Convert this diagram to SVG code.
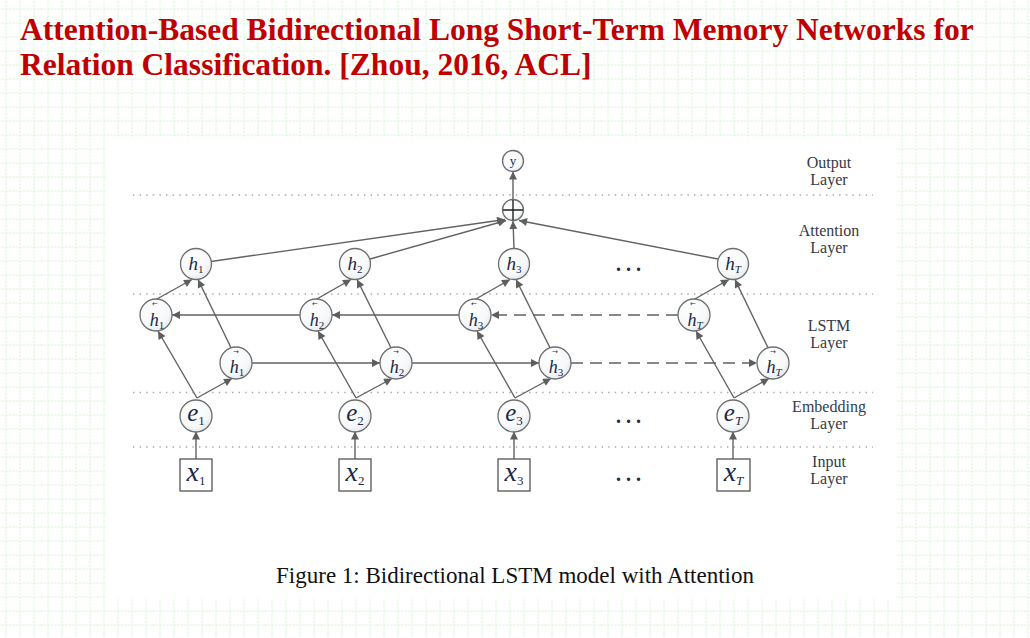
<svg xmlns="http://www.w3.org/2000/svg" width="1030" height="638" viewBox="0 0 1030 638">
<defs>
<pattern id="grid" x="5.5" y="8.5" width="14" height="14" patternUnits="userSpaceOnUse">
<line x1="0.5" y1="0" x2="0.5" y2="14" stroke="#cff3cf" stroke-width="1" stroke-dasharray="2 1.5"/>
<line x1="0" y1="0.5" x2="14" y2="0.5" stroke="#cff3cf" stroke-width="1" stroke-dasharray="2 1.5"/>
</pattern>
<radialGradient id="g" cx="0.4" cy="0.35" r="0.7">
<stop offset="0" stop-color="#ffffff"/>
<stop offset="0.7" stop-color="#f6f8f9"/>
<stop offset="1" stop-color="#e3e8ec"/>
</radialGradient>
<marker id="ar" viewBox="0 0 10 10" refX="10" refY="5" markerWidth="10" markerHeight="8" markerUnits="userSpaceOnUse" orient="auto">
<path d="M0,0 L10,5 L0,10 z" fill="#5e5e5e"/>
</marker>
<style>
.title{font-family:"Liberation Serif","Times New Roman",serif;font-weight:bold;font-size:31.5px;fill:#c00000}
.cap{font-family:"Liberation Serif","Times New Roman",serif;font-size:23px;fill:#111}
.layer{font-family:"Liberation Serif","Times New Roman",serif;font-size:16px;fill:#353a48;text-anchor:middle}
.sep{stroke:#a8a8a8;stroke-width:1.3;stroke-dasharray:1.4 5.2}
.node circle{fill:url(#g);stroke:#6e6e6e;stroke-width:1.3}
.node rect{fill:#fff;stroke:#555;stroke-width:1.3}
.lab{font-family:"Liberation Serif","Times New Roman",serif;font-style:italic;fill:#1e2846;text-anchor:middle}
.sub{font-style:normal}
.arr{font-family:"DejaVu Sans","Liberation Serif",sans-serif;font-size:7px;fill:#1e2846;text-anchor:middle}
.dots{font-family:"Liberation Serif",serif;font-weight:bold;font-size:20px;fill:#1e2846;letter-spacing:5px}
.edge line{stroke:#626262;stroke-width:1.4;fill:none;marker-end:url(#ar)}
.edge line.d{stroke-dasharray:12 7}
</style>
</defs>
<rect x="0" y="0" width="1030" height="638" fill="#fff"/>
<rect x="0" y="0" width="1030" height="638" fill="url(#grid)"/>
<rect x="105" y="138" width="791" height="460" fill="#fff"/>

<text class="title" x="20" y="40">Attention-Based Bidirectional Long Short-Term Memory Networks for</text>
<text class="title" x="20" y="75">Relation Classification. [Zhou, 2016, ACL]</text>

<g id="separators">
<line class="sep" x1="133" y1="195" x2="873" y2="195"/>
<line class="sep" x1="133" y1="294" x2="873" y2="294"/>
<line class="sep" x1="133" y1="392.5" x2="873" y2="392.5"/>
<line class="sep" x1="133" y1="447" x2="873" y2="447"/>
</g>

<g id="layer-labels">
<text class="layer" x="829" y="168">Output</text><text class="layer" x="829" y="185">Layer</text>
<text class="layer" x="829" y="235.5">Attention</text><text class="layer" x="829" y="252.5">Layer</text>
<text class="layer" x="829" y="331">LSTM</text><text class="layer" x="829" y="348">Layer</text>
<text class="layer" x="829" y="412">Embedding</text><text class="layer" x="829" y="429">Layer</text>
<text class="layer" x="829" y="466.5">Input</text><text class="layer" x="829" y="483.5">Layer</text>
</g>

<g id="connectors" class="edge">
<line x1="513" y1="199.5" x2="513" y2="171.5"/>
<line x1="211" y1="261.5" x2="505" y2="219.5"/>
<line x1="370" y1="259" x2="506" y2="220.5"/>
<line x1="514" y1="248.5" x2="513" y2="221"/>
<line x1="718" y1="259" x2="519" y2="220.5"/>

<line x1="156" y1="299.5" x2="192" y2="279.5"/>
<line x1="231" y1="347.8" x2="198" y2="279.5"/>
<line x1="316" y1="299.5" x2="351" y2="279.5"/>
<line x1="391" y1="347.8" x2="357" y2="279.5"/>
<line x1="475" y1="299.5" x2="510" y2="279.5"/>
<line x1="550" y1="347.8" x2="516" y2="279.5"/>
<line x1="694" y1="299.5" x2="729" y2="279.5"/>
<line x1="768" y1="347.8" x2="735" y2="279.5"/>

<line x1="197" y1="398" x2="158" y2="331"/>
<line x1="197" y1="398" x2="232" y2="378.5"/>
<line x1="356" y1="398" x2="318" y2="331"/>
<line x1="356" y1="398" x2="392" y2="378.5"/>
<line x1="515" y1="398" x2="477" y2="331"/>
<line x1="515" y1="398" x2="551" y2="378.5"/>
<line x1="734" y1="398" x2="696" y2="331"/>
<line x1="734" y1="398" x2="769" y2="378.5"/>

<line x1="252" y1="363" x2="380" y2="363"/>
<line x1="412" y1="363" x2="539" y2="363"/>
<line class="d" x1="571" y1="363" x2="757" y2="363"/>
<line x1="300" y1="315" x2="172" y2="315"/>
<line x1="459" y1="315" x2="332" y2="315"/>
<line class="d" x1="678" y1="315" x2="491" y2="315"/>

<line x1="196" y1="459" x2="196" y2="431.5"/>
<line x1="355" y1="459" x2="355" y2="431.5"/>
<line x1="514" y1="459" x2="514" y2="431.5"/>
<line x1="733" y1="459" x2="733" y2="431.5"/>
</g>

<g id="node-y" class="node"><circle cx="513" cy="161" r="10.5"/><text class="lab sub" x="513" y="165" font-size="13" fill="#2e3e70">y</text></g>
<g id="node-sum" class="node"><circle cx="513" cy="210" r="10.5"/><path d="M503,210 H523 M513,200 V220" stroke="#222" stroke-width="1.4" fill="none"/></g>

<g id="node-h1" class="node"><circle cx="196" cy="264" r="15.5"/><text class="lab" x="196" y="270" font-size="19">h<tspan class="sub" font-size="11" dy="3">1</tspan></text></g>
<g id="node-h2" class="node"><circle cx="355" cy="264" r="15.5"/><text class="lab" x="355" y="270" font-size="19">h<tspan class="sub" font-size="11" dy="3">2</tspan></text></g>
<g id="node-h3" class="node"><circle cx="514" cy="264" r="15.5"/><text class="lab" x="514" y="270" font-size="19">h<tspan class="sub" font-size="11" dy="3">3</tspan></text></g>
<g id="node-hT" class="node"><circle cx="733" cy="264" r="15.5"/><text class="lab" x="733" y="270" font-size="19">h<tspan font-size="11" dy="3">T</tspan></text></g>

<g id="node-bh1" class="node"><circle cx="156" cy="315" r="16"/><text class="arr" x="155" y="306">←</text><text class="lab" x="157" y="326" font-size="18">h<tspan class="sub" font-size="11" dy="3">1</tspan></text></g>
<g id="node-bh2" class="node"><circle cx="316" cy="315" r="16"/><text class="arr" x="315" y="306">←</text><text class="lab" x="317" y="326" font-size="18">h<tspan class="sub" font-size="11" dy="3">2</tspan></text></g>
<g id="node-bh3" class="node"><circle cx="475" cy="315" r="16"/><text class="arr" x="474" y="306">←</text><text class="lab" x="476" y="326" font-size="18">h<tspan class="sub" font-size="11" dy="3">3</tspan></text></g>
<g id="node-bhT" class="node"><circle cx="694" cy="315" r="16"/><text class="arr" x="693" y="306">←</text><text class="lab" x="695" y="326" font-size="18">h<tspan font-size="11" dy="3">T</tspan></text></g>

<g id="node-fh1" class="node"><circle cx="236" cy="363" r="16"/><text class="arr" x="236" y="354">→</text><text class="lab" x="237" y="373" font-size="18">h<tspan class="sub" font-size="11" dy="3">1</tspan></text></g>
<g id="node-fh2" class="node"><circle cx="396" cy="363" r="16"/><text class="arr" x="396" y="354">→</text><text class="lab" x="397" y="373" font-size="18">h<tspan class="sub" font-size="11" dy="3">2</tspan></text></g>
<g id="node-fh3" class="node"><circle cx="555" cy="363" r="16"/><text class="arr" x="555" y="354">→</text><text class="lab" x="556" y="373" font-size="18">h<tspan class="sub" font-size="11" dy="3">3</tspan></text></g>
<g id="node-fhT" class="node"><circle cx="773" cy="363" r="16"/><text class="arr" x="773" y="354">→</text><text class="lab" x="774" y="373" font-size="18">h<tspan font-size="11" dy="3">T</tspan></text></g>

<g id="node-e1" class="node"><circle cx="196" cy="416" r="16"/><text class="lab" x="196" y="421" font-size="25">e<tspan class="sub" font-size="13" dy="4">1</tspan></text></g>
<g id="node-e2" class="node"><circle cx="355" cy="416" r="16"/><text class="lab" x="355" y="421" font-size="25">e<tspan class="sub" font-size="13" dy="4">2</tspan></text></g>
<g id="node-e3" class="node"><circle cx="514" cy="416" r="16"/><text class="lab" x="514" y="421" font-size="25">e<tspan class="sub" font-size="13" dy="4">3</tspan></text></g>
<g id="node-eT" class="node"><circle cx="733" cy="416" r="16"/><text class="lab" x="733" y="421" font-size="25">e<tspan font-size="13" dy="4">T</tspan></text></g>

<g id="node-x1" class="node"><rect x="180" y="459" width="32" height="32"/><text class="lab" x="196" y="481" font-size="28">x<tspan class="sub" font-size="13" dy="4">1</tspan></text></g>
<g id="node-x2" class="node"><rect x="339" y="459" width="32" height="32"/><text class="lab" x="355" y="481" font-size="28">x<tspan class="sub" font-size="13" dy="4">2</tspan></text></g>
<g id="node-x3" class="node"><rect x="498" y="459" width="32" height="32"/><text class="lab" x="514" y="481" font-size="28">x<tspan class="sub" font-size="13" dy="4">3</tspan></text></g>
<g id="node-xT" class="node"><rect x="717" y="459" width="33" height="32"/><text class="lab" x="733.5" y="481" font-size="28">x<tspan font-size="13" dy="4">T</tspan></text></g>

<g id="ellipses">
<text class="dots" x="616" y="271">...</text>
<text class="dots" x="616" y="423">...</text>
<text class="dots" x="616" y="481">...</text>
</g>

<text class="cap" x="515" y="583" text-anchor="middle">Figure 1: Bidirectional LSTM model with Attention</text>
</svg>
